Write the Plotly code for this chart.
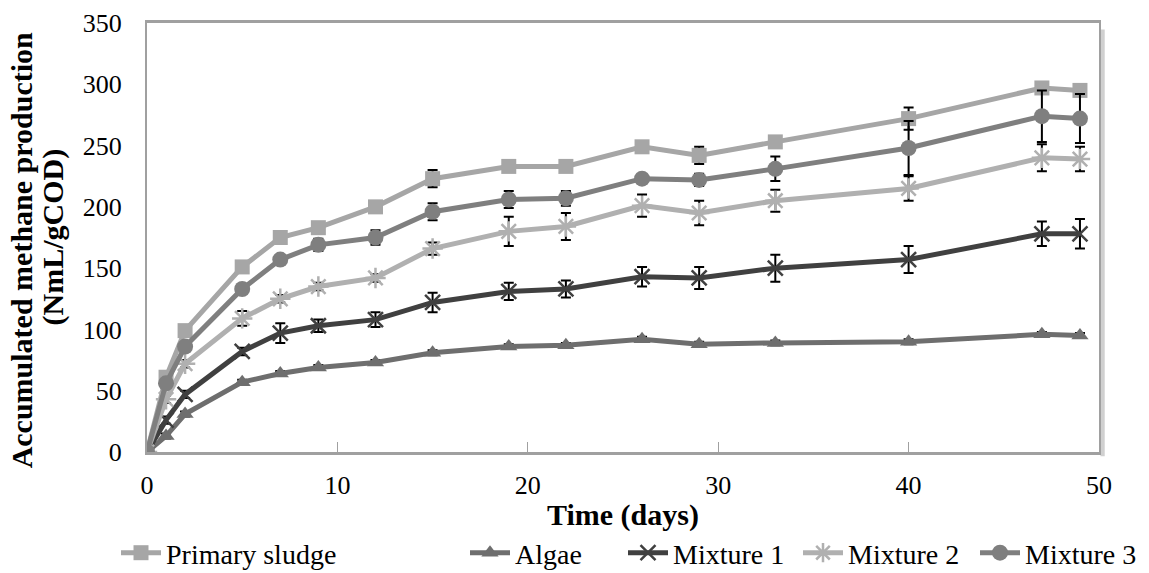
import plotly.graph_objects as go

days = [0, 1, 2, 5, 7, 9, 12, 15, 19, 22, 26, 29, 33, 40, 47, 49]

primary_sludge = [0, 61, 99, 151, 175, 183, 200, 223, 233, 233, 249, 242, 253, 272, 297, 295]
primary_sludge_err = [0, 2, 2, 3, 3, 3, 3, 7, 3, 3, 3, 7, 3, 9, 3, 3]

algae = [0, 13, 31, 57, 64, 69, 73, 81, 86, 87, 92, 88, 89, 90, 96, 95]
algae_err = [0, 2, 2, 2, 2, 2, 2, 2, 2, 2, 2, 2, 2, 2, 2, 2]

mixture1 = [0, 26, 47, 82, 97, 103, 108, 122, 131, 133, 143, 142, 150, 157, 178, 178]
mixture1_err = [0, 3, 3, 3, 8, 5, 6, 8, 7, 7, 8, 9, 11, 11, 10, 12]

mixture2 = [0, 43, 72, 109, 125, 135, 142, 166, 180, 184, 201, 195, 205, 215, 240, 239]
mixture2_err = [0, 3, 3, 6, 3, 3, 3, 5, 12, 11, 9, 10, 9, 10, 11, 10]

mixture3 = [0, 56, 86, 133, 157, 169, 175, 196, 206, 207, 223, 222, 231, 248, 274, 272]
mixture3_err = [0, 3, 3, 3, 3, 5, 6, 7, 7, 6, 3, 5, 10, 22, 21, 20]

series = [
    ("Primary sludge", primary_sludge, primary_sludge_err, "#a6a6a6", "square", 15),
    ("Algae", algae, algae_err, "#6e6e6e", "triangle-up", 15),
    ("Mixture 1", mixture1, mixture1_err, "#404040", "x-thin-open", 15),
    ("Mixture 2", mixture2, mixture2_err, "#b0b0b0", "asterisk-open", 17),
    ("Mixture 3", mixture3, mixture3_err, "#7f7f7f", "circle", 16),
]

# legend item left edges in pixels (one small legend per series)
legend_px = [116, 465, 623, 798, 975]

L, R, T, B = 147, 50, 23, 121
W, H = 1149, 573
PW, PH = W - L - R, H - T - B

font_family = "Liberation Serif, Times New Roman, serif"
leg_font = dict(size=28, family=font_family, color="black")

fig = go.Figure()
layout_legends = {}
for i, (name, vals, err, color, sym, size) in enumerate(series):
    leg = "legend" if i == 0 else f"legend{i + 1}"
    fig.add_trace(go.Scatter(
        x=days, y=vals, name=name, mode="lines+markers", legend=leg,
        line=dict(color=color, width=5),
        marker=dict(symbol=sym, size=size, color=color,
                    line=dict(color=color, width=2.5 if "open" in sym else 0)),
        error_y=dict(type="data", array=err, visible=True, color="black",
                     thickness=2, width=5),
    ))
    layout_legends[leg] = dict(
        orientation="h", x=(legend_px[i] - L) / PW, xanchor="left",
        y=-(553 - (T + PH)) / PH, yanchor="middle",
        font=leg_font, itemwidth=40, bgcolor="rgba(0,0,0,0)",
    )

fig.update_layout(
    width=W, height=H,
    margin=dict(l=L, r=R, t=T, b=B, autoexpand=False),
    paper_bgcolor="white", plot_bgcolor="white",
    font=dict(family=font_family, color="black", size=25),
    showlegend=True,
    xaxis=dict(
        range=[0, 50], dtick=10, tick0=0, automargin=False,
        showgrid=False, zeroline=False,
        showline=True, linecolor="#a0a0a0", linewidth=3, mirror=True,
        ticks="inside", ticklen=10, tickcolor="#a0a0a0", tickwidth=1,
        ticklabelstandoff=8,
        tickfont=dict(size=26, family=font_family),
        title=dict(text="<b>Time (days)</b>", font=dict(size=30, family=font_family), standoff=5),
    ),
    yaxis=dict(
        range=[0, 350], dtick=50, automargin=False,
        showgrid=False, zeroline=False,
        showline=True, linecolor="#a0a0a0", linewidth=2, mirror=True,
        ticks="", ticklabelstandoff=18,
        tickfont=dict(size=26, family=font_family),
    ),
    **layout_legends,
)

# y-axis title as two rotated lines with tight spacing
ytitle_font = dict(size=30, family=font_family, color="black")
fig.add_annotation(text="<b>Accumulated methane production</b>", textangle=-90,
                   xref="paper", yref="paper", x=(21 - L) / PW, y=0.47,
                   xanchor="center", yanchor="middle", showarrow=False, font=ytitle_font)
fig.add_annotation(text="<b>(NmL/gCOD)</b>", textangle=-90,
                   xref="paper", yref="paper", x=(52 - L) / PW, y=0.5,
                   xanchor="center", yanchor="middle", showarrow=False, font=ytitle_font)

# soft shadow along the right edge of the plot area
fig.add_shape(type="rect", xref="paper", yref="paper", x0=1.0015, x1=1.006, y0=-0.01, y1=0.985,
              fillcolor="#d0d0d0", line=dict(width=0), layer="below")

fig.write_html("out.html")
